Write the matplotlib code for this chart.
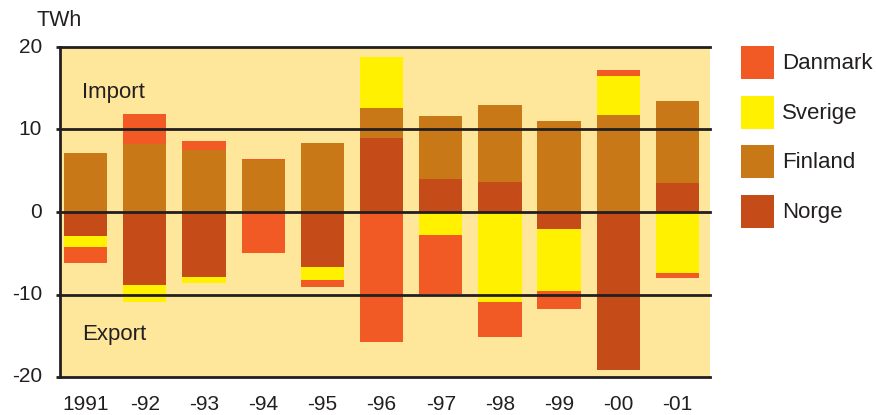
import matplotlib
matplotlib.use("Agg")
import matplotlib.pyplot as plt
from matplotlib.patches import Rectangle

plt.rcParams["font.family"] = ["Liberation Sans", "DejaVu Sans"]

years = ["1991", "-92", "-93", "-94", "-95", "-96", "-97", "-98", "-99", "-00", "-01"]

# Stacking order outward from the zero line
countries = ["Norge", "Finland", "Sverige", "Danmark"]

# Import (positive), TWh
imp_norge   = [0, 0, 0, 0, 0, 8.97, 4.0, 3.64, 0, 0, 3.52]
imp_finland = [7.15, 8.2, 7.48, 6.26, 8.36, 3.63, 7.64, 9.33, 11.03, 11.76, 9.93]
imp_sverige = [0, 0, 0, 0, 0, 6.2, 0, 0, 0, 4.72, 0]
imp_danmark = [0, 3.64, 1.12, 0.16, 0, 0, 0, 0, 0, 0.72, 0]

# Export (negative), TWh
exp_norge   = [-2.9, -8.85, -7.88, 0, -6.67, 0, 0, 0, -2.06, -19.1, 0]
exp_finland = [0, 0, 0, 0, 0, 0, 0, 0, 0, 0, 0]
exp_sverige = [-1.35, -2.05, -0.69, 0, -1.57, 0, -2.79, -10.9, -7.52, 0, -7.39]
exp_danmark = [-1.95, 0, 0, -4.97, -0.85, -15.7, -7.19, -4.3, -2.12, 0, -0.61]

imports = {"Norge": imp_norge, "Finland": imp_finland,
           "Sverige": imp_sverige, "Danmark": imp_danmark}
exports = {"Norge": exp_norge, "Finland": exp_finland,
           "Sverige": exp_sverige, "Danmark": exp_danmark}

colors = {"Danmark": "#F15A24", "Sverige": "#FFF100",
          "Finland": "#C97818", "Norge": "#C54B19"}

ink = "#231F20"
W, H = 876, 415

fig = plt.figure(figsize=(W / 100, H / 100), dpi=100)
ax = fig.add_axes([60 / W, 1 - 377 / H, 650 / W, 330 / H])
ax.set_facecolor("#FEE69B")

x = list(range(len(years)))
width = 0.73

pos_base = [0.0] * len(years)
neg_base = [0.0] * len(years)
for c in countries:
    ax.bar(x, imports[c], width, bottom=pos_base, color=colors[c], linewidth=0, zorder=2)
    ax.bar(x, exports[c], width, bottom=neg_base, color=colors[c], linewidth=0, zorder=2)
    pos_base = [b + v for b, v in zip(pos_base, imports[c])]
    neg_base = [b + v for b, v in zip(neg_base, exports[c])]

ax.set_xlim(-0.431, 10.549)
ax.set_ylim(-20, 20)

for yv in (-20, -10, 0, 10, 20):
    ax.axhline(yv, color=ink, lw=2.0, zorder=3, clip_on=False)

for side in ("top", "right", "bottom"):
    ax.spines[side].set_visible(False)
ax.spines["left"].set_color(ink)
ax.spines["left"].set_linewidth(2.0)
ax.spines["left"].set_zorder(4)

ax.set_yticks([-20, -10, 0, 10, 20])
ax.set_yticklabels(["-20", "-10", "0", "10", "20"])
ax.tick_params(axis="y", length=3, width=2.0, color=ink, pad=10,
               labelsize=15, labelcolor=ink)
for lab in ax.get_yticklabels():
    lab.set_va("center")
    lab.set_y(lab.get_position()[1])
ax.set_xticks(x)
ax.set_xticklabels(years)
ax.tick_params(axis="x", length=0, pad=13, labelsize=15, labelcolor=ink)

ax.text(-0.06, 13.8, "Import", fontsize=16, color=ink, va="baseline", ha="left", zorder=5)
ax.text(-0.06, -15.5, "Export", fontsize=16, color=ink, va="baseline", ha="left", zorder=5)

fig.text(59 / W, 1 - 21 / H, "TWh", fontsize=15.5, color=ink, ha="center", va="center")

# Legend: colour squares with labels to their right
legend_order = ["Danmark", "Sverige", "Finland", "Norge"]
sq = 33
for i, c in enumerate(legend_order):
    top = 46 + i * 49.7
    fig.patches.append(Rectangle((741 / W, 1 - (top + sq) / H), sq / W, sq / H,
                                 transform=fig.transFigure, facecolor=colors[c],
                                 edgecolor="none"))
    fig.text(782 / W, 1 - (top + sq / 2 + 1) / H, c, fontsize=16, color=ink,
             ha="left", va="center")

fig.savefig("out.png", dpi=100)
